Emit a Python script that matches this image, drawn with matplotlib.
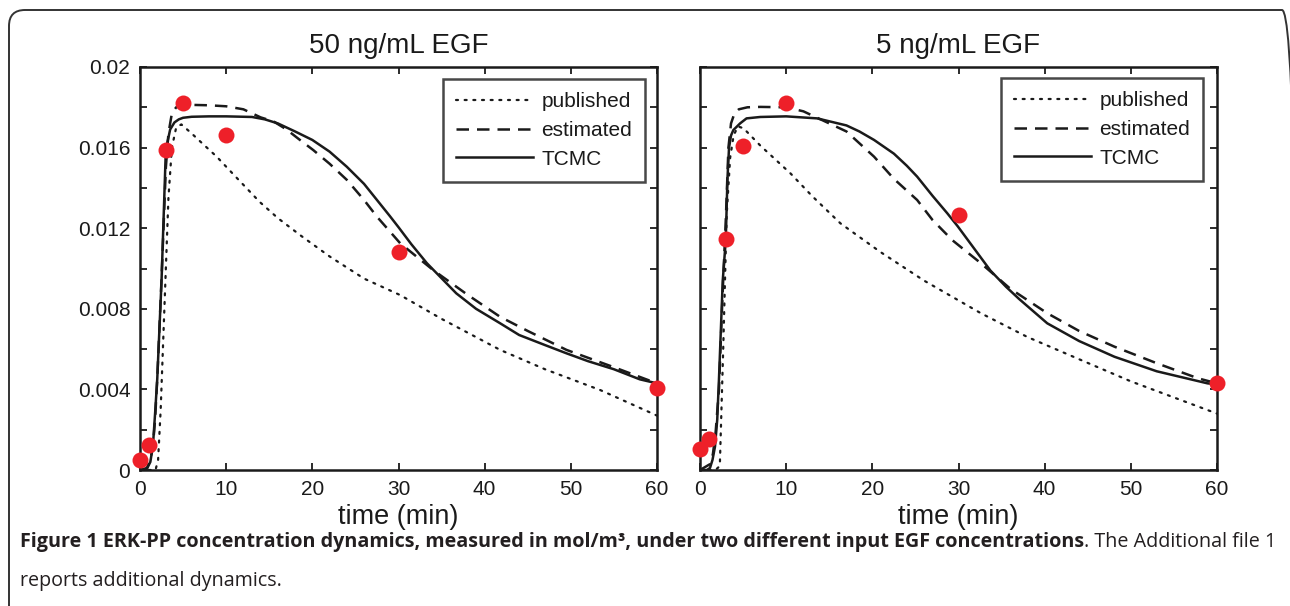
import matplotlib
matplotlib.use("Agg")
import matplotlib.pyplot as plt
from matplotlib.patches import FancyBboxPatch
from matplotlib.transforms import IdentityTransform

plt.rcParams['font.family'] = ['Liberation Sans', 'DejaVu Sans']

# ---------------- data ----------------
titles = ["50 ng/mL EGF", "5 ng/mL EGF"]
xticks = [0, 10, 20, 30, 40, 50, 60]
yticks = [0, 0.002, 0.004, 0.006, 0.008, 0.010, 0.012, 0.014, 0.016, 0.018, 0.020]
ytick_labels = ["0", "", "0.004", "", "0.008", "", "0.012", "", "0.016", "", "0.02"]
legend_labels = ["published", "estimated", "TCMC"]

# 50 ng/mL EGF
meas_t_50 = [0, 1, 3, 5, 10, 30, 60]
meas_y_50 = [0.0005, 0.00124, 0.0159, 0.0182, 0.01663, 0.01082, 0.00407]

pub_t_50 = [0, 1.8, 2.1, 2.4, 2.7, 3.0, 3.3, 3.7, 4.2, 4.8, 5.2, 6, 7, 8.9, 11, 13.9, 16,
            18.7, 22, 26, 30.2, 35, 41.8, 47, 53.4, 60]
pub_y_50 = [0, 0, 0.0005, 0.003, 0.0065, 0.0100, 0.0135, 0.0160, 0.0170, 0.01715, 0.0170,
            0.0167, 0.0163, 0.01555, 0.0146, 0.01330, 0.0125, 0.01162, 0.0106, 0.0095,
            0.00868, 0.0075, 0.00596, 0.0050, 0.00397, 0.0027]

est_t_50 = [0, 0.8, 1.2, 1.5, 1.75, 2.0, 2.5, 3.0, 3.3, 3.7, 4.2, 5, 6, 8, 10, 12, 14, 15.5,
            17, 18.5, 20.1, 22, 24, 26, 27.5, 30.2, 34, 38, 41.8, 45, 49.5, 55, 60]
est_y_50 = [0, 0.0001, 0.0005, 0.0012, 0.0025, 0.0045, 0.0095, 0.0150, 0.0167, 0.0177,
            0.0180, 0.01811, 0.01812, 0.0181, 0.01805, 0.0179, 0.0175, 0.0173, 0.0169,
            0.0164, 0.01588, 0.0152, 0.0144, 0.0134, 0.01257, 0.01125, 0.00993, 0.0087,
            0.0076, 0.0069, 0.00596, 0.0051, 0.0043]

tcmc_t_50 = [0, 0.5, 0.8, 1.2, 1.5, 1.75, 2.0, 2.5, 3.0, 3.5, 4.0, 4.5, 5, 6, 8, 10, 13,
             14.5, 16, 18, 20, 22, 24, 26, 27.5, 29, 30, 31.5, 33.3, 36.7, 39, 41.8, 44,
             47, 49.5, 52, 55, 58, 60]
tcmc_y_50 = [0, 0, 0.00005, 0.0004, 0.0012, 0.0028, 0.0045, 0.0094, 0.0159, 0.0169,
             0.01725, 0.0174, 0.01748, 0.01753, 0.01755, 0.01755, 0.01752, 0.0174, 0.0172,
             0.0168, 0.01638, 0.0158, 0.01505, 0.0142, 0.0134, 0.0126, 0.01205, 0.0112,
             0.01026, 0.00877, 0.0080, 0.00728, 0.0067, 0.0062, 0.00579, 0.0054, 0.0050,
             0.0045, 0.0043]

# 5 ng/mL EGF
meas_t_5 = [0, 1, 3, 5, 10, 30, 60]
meas_y_5 = [0.00104, 0.00154, 0.01146, 0.0161, 0.0182, 0.01266, 0.00432]

pub_t_5 = [0, 1.8, 2.3, 2.7, 3.1, 3.5, 3.9, 4.4, 5.05, 7, 10.5, 13, 16.3, 20.9, 26,
           32.6, 38, 44.2, 50, 55, 60]
pub_y_5 = [0, 0, 0.0002, 0.0061, 0.0127, 0.0155, 0.0166, 0.01705, 0.01696, 0.0161,
           0.01472, 0.0136, 0.01224, 0.01083, 0.0094, 0.00778, 0.0066, 0.00546, 0.0044,
           0.0036, 0.0028]

est_t_5 = [0, 1.2, 1.5, 1.8, 2.2, 2.6, 3.0, 3.3, 3.6, 4.0, 4.5, 5.5, 7, 10, 12, 13.6, 17,
           20.2, 22.5, 25.2, 27, 29.3, 32.6, 36, 40.3, 44, 48.1, 53, 57.8, 60]
est_y_5 = [0, 0.0003, 0.0008, 0.0018, 0.004, 0.0085, 0.0125, 0.0160, 0.0172, 0.0177,
           0.0179, 0.0180, 0.01802, 0.0180, 0.0178, 0.01748, 0.0168, 0.01555, 0.01445,
           0.0134, 0.0124, 0.0114, 0.01026, 0.0090, 0.00778, 0.0069, 0.00612, 0.0053,
           0.00455, 0.0043]

tcmc_t_5 = [0, 0.8, 1.16, 1.45, 1.74, 2.0, 2.2, 2.64, 2.99, 3.18, 3.37, 3.6, 3.87, 4.65,
            5.4, 7, 10, 13.6, 17, 18.5, 20.2, 22.5, 24, 25.2, 27, 28.7, 29.9, 31.8, 33.7,
            35.5, 37, 40.3, 44, 48.1, 53, 58.9, 60]
tcmc_y_5 = [0, 0, 0.0001, 0.0005, 0.00116, 0.0025, 0.0045, 0.0094, 0.0114, 0.0144, 0.0160,
            0.0166, 0.01687, 0.0172, 0.01745, 0.01752, 0.01755, 0.01745, 0.0171, 0.0168,
            0.01638, 0.0157, 0.0151, 0.01456, 0.0136, 0.01274, 0.0121, 0.0110, 0.0099,
            0.0091, 0.0085, 0.00728, 0.0064, 0.00562, 0.0049, 0.0043, 0.00425]

caption_bold = "Figure 1 ERK-PP concentration dynamics, measured in mol/m³, under two different input EGF concentrations"
caption_rest = ". The Additional file 1"
caption_line2 = "reports additional dynamics."
xlabel = "time (min)"

# ---------------- figure ----------------
W, H = 1290, 606
fig = plt.figure(figsize=(W / 100, H / 100), dpi=100)
fig.patch.set_facecolor("white")

# rounded frame
frame = FancyBboxPatch((9, -60), 1289, H - 10 + 60, boxstyle="round,pad=0,rounding_size=16",
                       transform=IdentityTransform(), fill=False, edgecolor="#333333", lw=1.4)
fig.add_artist(frame)

axpos = [[140 / W, 1 - 470 / H, 517 / W, 403 / H],
         [700 / W, 1 - 470 / H, 517 / W, 403 / H]]
leg_anchor = [(0.977, 0.970), (0.973, 0.972)]

panels = [
    (meas_t_50, meas_y_50, pub_t_50, pub_y_50, est_t_50, est_y_50, tcmc_t_50, tcmc_y_50),
    (meas_t_5, meas_y_5, pub_t_5, pub_y_5, est_t_5, est_y_5, tcmc_t_5, tcmc_y_5),
]

lc = "#1a1a1a"
for i, (mt, my, pt, py, et, ey, tt, ty) in enumerate(panels):
    ax = fig.add_axes(axpos[i])
    l1, = ax.plot(pt, py, color=lc, lw=1.6, linestyle=(0, (0.9, 3.0)), dash_capstyle="round")
    l2, = ax.plot(et, ey, color=lc, lw=1.8, linestyle=(0, (5.0, 3.2)))
    l3, = ax.plot(tt, ty, color=lc, lw=1.8)
    ax.plot(mt, my, "o", color="#ee2029", markersize=11.5, markeredgewidth=0, clip_on=False, zorder=5)
    ax.set_xlim(0, 60)
    ax.set_ylim(0, 0.02)
    ax.set_xticks(xticks)
    ax.set_xticklabels([str(x) for x in xticks])
    ax.set_yticks(yticks)
    if i == 0:
        ax.set_yticklabels(ytick_labels)
    else:
        ax.set_yticklabels([])
    ax.tick_params(direction="in", length=5, width=1.3, top=True, right=True,
                   labelsize=15, colors=lc, pad=7)
    for s in ax.spines.values():
        s.set_linewidth(1.8)
        s.set_color(lc)
    ax.set_title(titles[i], fontsize=20, pad=10, color=lc)
    ax.set_xlabel(xlabel, fontsize=19.5, labelpad=4, color=lc)
    leg = ax.legend([l1, l2, l3], legend_labels, loc="upper right",
                    bbox_to_anchor=leg_anchor[i], borderaxespad=0, fontsize=15,
                    frameon=True, fancybox=False, handlelength=3.7, handletextpad=0.4,
                    labelspacing=0.47, borderpad=0.62)
    leg.get_frame().set_edgecolor(lc)
    leg.get_frame().set_linewidth(1.8)
    for t in leg.get_texts():
        t.set_color(lc)

# caption
cap_family = ['Liberation Sans Narrow', 'Open Sans', 'DejaVu Sans']
t1 = fig.text(20 / W, 1 - 542 / H, caption_bold, fontsize=14.2, fontweight="bold",
              family=cap_family, va="center", ha="left", color="#231f20")
fig.canvas.draw()
bb = t1.get_window_extent()
fig.text(bb.x1 / W, 1 - 542 / H, caption_rest, fontsize=14.2, family=cap_family,
         va="center", ha="left", color="#231f20")
fig.text(20 / W, 1 - 581 / H, caption_line2, fontsize=14.2, family=cap_family,
         va="center", ha="left", color="#231f20")

fig.savefig("out.png", dpi=100, facecolor="white")
